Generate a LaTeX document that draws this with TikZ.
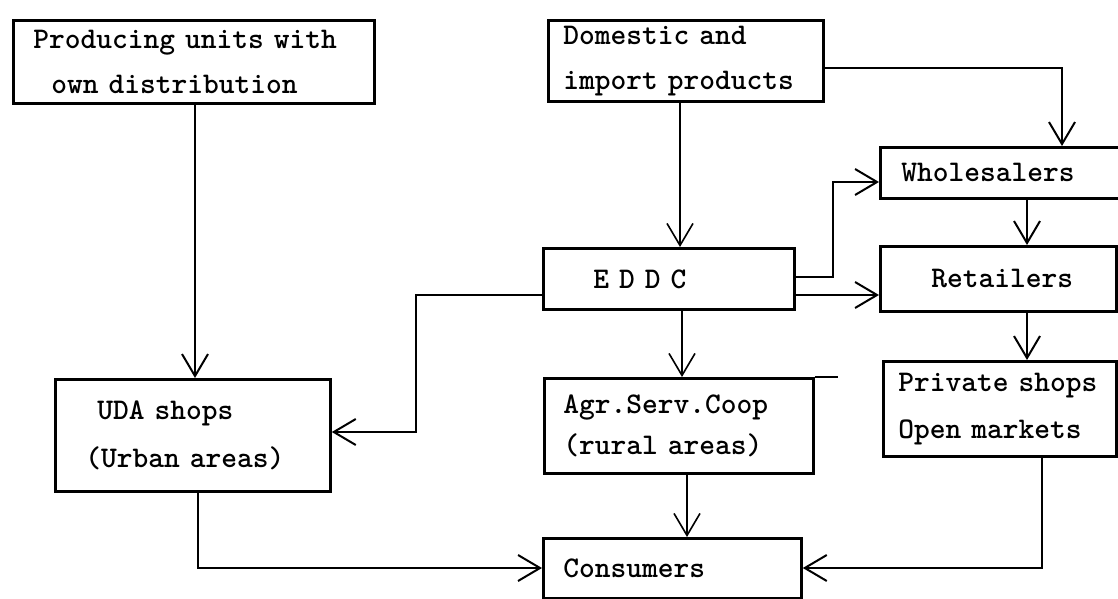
\documentclass[tikz,border=0pt]{standalone}
\usetikzlibrary{arrows.meta}
\begin{document}
\begin{tikzpicture}[x=0.5pt,y=-0.5pt,
  box/.style={draw, line width=1.4pt, rectangle, anchor=north west,
    inner xsep=0pt, inner ysep=0pt, align=left,
    font=\fontsize{15}{22.5}\selectfont\ttfamily\bfseries},
  arr/.style={line width=1pt, -{Straight Barb[length=11pt,width=13pt]}},
  thin/.style={line width=0.8pt}]
\useasboundingbox (0,0) rectangle (1118,599);

% boxes
\node[box, text width=180.5pt, minimum height=41.5pt] (prod) at (12,19)
  {\hspace*{10pt}Producing units with\\\hspace*{19pt}own distribution};
\node[box, text width=137.5pt, minimum height=40.5pt] (dom) at (547,19)
  {\hspace*{7.5pt}Domestic and\\\hspace*{7.5pt}import products};
\node[box, text width=119.5pt, minimum height=25.5pt] (whole) at (879,146)
  {\hspace*{10.5pt}Wholesalers};
\node[box, text width=125.5pt, minimum height=30.5pt] (eddc) at (542,247)
  {\hspace*{25pt}E D D C};
\node[box, text width=118pt, minimum height=32.5pt] (retail) at (879,245)
  {\hspace*{25.5pt}Retailers};
\node[box, text width=137.5pt, minimum height=56pt] (uda) at (54,378)
  {\hspace*{21pt}UDA shops\\[1.5pt]\hspace*{15pt}(Urban areas)};
\node[box, text width=134.5pt, minimum height=47.5pt] (agr) at (543,377)
  {\hspace*{9.5pt}Agr.Serv.Coop\\[-2pt]\hspace*{9.5pt}(rural areas)};
\node[box, text width=116.5pt, minimum height=47.5pt] (priv) at (882,360)
  {\hspace*{7.5pt}Private shops\\[1pt]\hspace*{7.5pt}Open markets};
\node[box, text width=129pt, minimum height=30pt] (cons) at (542,537)
  {\hspace*{10pt}Consumers};

% overshoot of the top line of the Agr. box
\draw[line width=1.4pt] (agr.north east) -- ++(23,0);

% connectors
\draw[arr] (prod.south -| 195,0) -- (uda.north -| 195,0);
\draw[arr, thin] (dom.south -| 680,0) -- (eddc.north -| 680,0);
\draw[arr] (dom.east |- 0,68) -| (whole.north -| 1062,0);
\draw[arr] (eddc.east |- 0,277) -- ++(37,0) |- (whole.west |- 0,182);
\draw[arr] (eddc.east |- 0,295) -- (retail.west |- 0,295);
\draw[arr] (whole.south -| 1027,0) -- (retail.north -| 1027,0);
\draw[arr] (retail.south -| 1027,0) -- (priv.north -| 1027,0);
\draw[arr, thin] (eddc.south -| 682,0) -- (agr.north -| 682,0);
\draw[arr, thin] (agr.south -| 687,0) -- (cons.north -| 687,0);
\draw[arr] (priv.south -| 1042,0) |- (cons.east |- 0,568);
\draw[arr] (eddc.west |- 0,295) -- ++(-126,0) |- (uda.east |- 0,432);
\draw[arr] (uda.south -| 198,0) |- (cons.west |- 0,568);
\end{tikzpicture}
\end{document}
